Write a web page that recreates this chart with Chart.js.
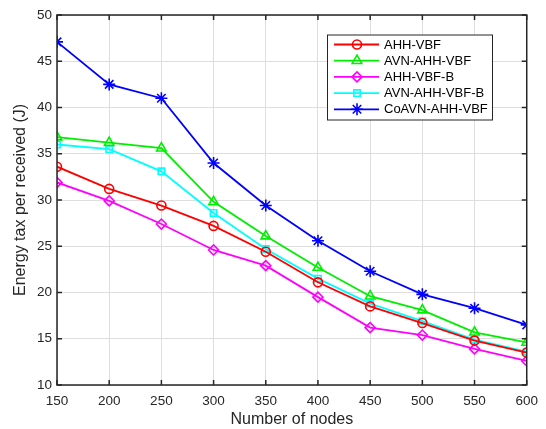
<!DOCTYPE html>
<html>
<head>
<meta charset="utf-8">
<script src="https://cdn.jsdelivr.net/npm/chart.js@4/dist/chart.umd.min.js"></script>
<style>
html,body{margin:0;padding:0;background:#fff;}
#c{display:block;}
</style>
</head>
<body>
<canvas id="c" width="546" height="429"></canvas>
<script>
const nodes = [150, 200, 250, 300, 350, 400, 450, 500, 550, 600];
const seriesNames = ['AHH-VBF', 'AVN-AHH-VBF', 'AHH-VBF-B', 'AVN-AHH-VBF-B', 'CoAVN-AHH-VBF'];
const ahhVbf      = [33.6, 31.2, 29.4, 27.2, 24.4, 21.1, 18.5, 16.7, 14.8, 13.5];
const avnAhhVbf   = [36.8, 36.2, 35.6, 29.8, 26.1, 22.7, 19.6, 18.1, 15.7, 14.6];
const ahhVbfB     = [31.9, 29.9, 27.4, 24.6, 22.9, 19.5, 16.2, 15.4, 13.9, 12.6];
const avnAhhVbfB  = [36.0, 35.5, 33.1, 28.6, 24.7, 21.5, 18.8, 16.9, 14.9, 13.6];
const coAvnAhhVbf = [47.1, 42.5, 41.0, 34.0, 29.4, 25.6, 22.3, 19.8, 18.3, 16.5];
const xTicks = [150, 200, 250, 300, 350, 400, 450, 500, 550, 600];
const yTicks = [10, 15, 20, 25, 30, 35, 40, 45, 50];

const FONT = '"Liberation Sans", Arial, Helvetica, sans-serif';
const AXIS_COLOR = '#262626';

function pts(vals){ return vals.map((v,i)=>({x:nodes[i], y:v})); }

const styles = [
  {color:'#ff0000', pointStyle:'circle', r:4.5},
  {color:'#00ee00', pointStyle:'triangle', r:5.5},
  {color:'#ff00ff', pointStyle:'rectRot', r:5},
  {color:'#00ffff', pointStyle:'rect', r:4.5},
  {color:'#0000ff', pointStyle:'star', r:6}
];
const allSeries = [ahhVbf, avnAhhVbf, ahhVbfB, avnAhhVbfB, coAvnAhhVbf];

const datasets = allSeries.map((vals, i) => ({
  label: seriesNames[i],
  data: pts(vals),
  borderColor: styles[i].color,
  backgroundColor: 'rgba(0,0,0,0)',
  pointBorderColor: styles[i].color,
  pointBackgroundColor: 'rgba(0,0,0,0)',
  pointStyle: styles[i].pointStyle,
  pointRadius: styles[i].r,
  pointBorderWidth: 1.6,
  borderWidth: 1.8,
  tension: 0,
  fill: false
}));

const boxPlugin = {
  id: 'boxPlugin',
  afterDraw(chart){
    const ctx = chart.ctx;
    const a = chart.chartArea;
    const xs = chart.scales.x, ys = chart.scales.y;
    ctx.save();
    ctx.strokeStyle = AXIS_COLOR;
    ctx.lineWidth = 1.5;
    ctx.strokeRect(a.left, a.top, a.right - a.left, a.bottom - a.top);
    const tl = 5;
    ctx.beginPath();
    xTicks.forEach(t => {
      const px = xs.getPixelForValue(t);
      ctx.moveTo(px, a.bottom); ctx.lineTo(px, a.bottom - tl);
      ctx.moveTo(px, a.top); ctx.lineTo(px, a.top + tl);
    });
    yTicks.forEach(t => {
      const py = ys.getPixelForValue(t);
      ctx.moveTo(a.left, py); ctx.lineTo(a.left + tl, py);
      ctx.moveTo(a.right, py); ctx.lineTo(a.right - tl, py);
    });
    ctx.stroke();

    // legend
    const lx = 327, ly = 34.5, lw = 165, lh = 85;
    ctx.fillStyle = '#ffffff';
    ctx.fillRect(lx, ly, lw, lh);
    ctx.strokeStyle = AXIS_COLOR;
    ctx.lineWidth = 1;
    ctx.strokeRect(lx + 0.5, ly + 0.5, lw, lh);
    ctx.font = '13px ' + FONT;
    ctx.textBaseline = 'middle';
    ctx.textAlign = 'left';
    chart.data.datasets.forEach((ds, i) => {
      const cy = 44.5 + i * 16.2;
      ctx.strokeStyle = ds.borderColor;
      ctx.lineWidth = 1.8;
      ctx.beginPath();
      ctx.moveTo(334, cy); ctx.lineTo(379, cy);
      ctx.stroke();
      ctx.save();
      ctx.strokeStyle = ds.borderColor;
      ctx.fillStyle = 'rgba(0,0,0,0)';
      ctx.lineWidth = 1.6;
      Chart.helpers.drawPoint(ctx, {pointStyle: ds.pointStyle, rotation: 0, radius: ds.pointRadius, borderWidth: 1.6}, 357, cy);
      ctx.restore();
      ctx.fillStyle = '#000000';
      ctx.fillText(ds.label, 384, cy + 0.5);
    });
    ctx.restore();
  }
};

new Chart(document.getElementById('c'), {
  type: 'line',
  data: { datasets },
  plugins: [boxPlugin],
  options: {
    responsive: false,
    animation: false,
    devicePixelRatio: 1,
    layout: { padding: { left: 0, right: 19, top: 15, bottom: 0 } },
    plugins: { legend: { display: false }, tooltip: { enabled: false } },
    scales: {
      x: {
        type: 'linear',
        min: 150, max: 600,
        afterBuildTicks(s){ s.ticks = xTicks.map(v => ({value: v})); },
        afterFit(s){ s.height = 44; },
        grid: { color: '#dedede', lineWidth: 1, drawTicks: false },
        border: { display: false },
        ticks: { color: AXIS_COLOR, font: { family: FONT, size: 13.5 }, padding: 8, maxRotation: 0 },
        title: { display: true, text: 'Number of nodes', color: AXIS_COLOR, font: { family: FONT, size: 16 }, padding: { top: 0, bottom: 0 } }
      },
      y: {
        type: 'linear',
        min: 10, max: 50,
        afterBuildTicks(s){ s.ticks = yTicks.map(v => ({value: v})); },
        afterFit(s){ s.width = 57; },
        grid: { color: '#dedede', lineWidth: 1, drawTicks: false },
        border: { display: false },
        ticks: { color: AXIS_COLOR, font: { family: FONT, size: 13.5 }, padding: 5 },
        title: { display: true, text: 'Energy tax per received (J)', color: AXIS_COLOR, font: { family: FONT, size: 16 }, padding: { top: 11, bottom: 0 } }
      }
    }
  }
});
</script>
</body>
</html>
